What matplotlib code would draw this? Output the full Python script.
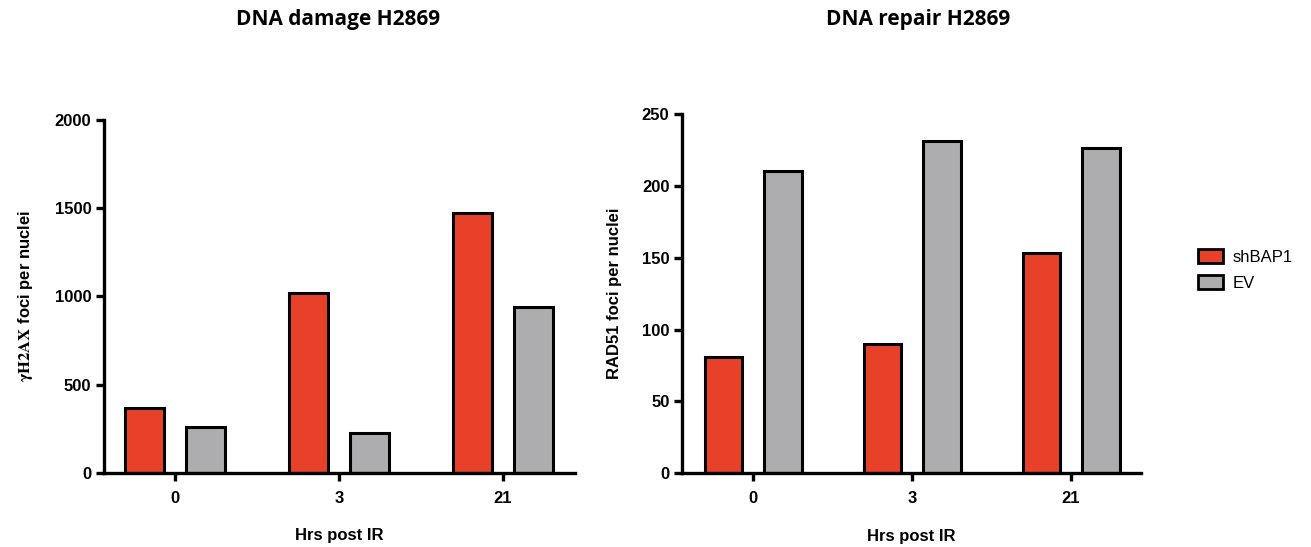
import matplotlib
matplotlib.use("Agg")
import matplotlib.pyplot as plt
from matplotlib.patches import Patch
import numpy as np

# Data
timepoints = ["0", "3", "21"]
series_names = ["shBAP1", "EV"]
h2ax_shbap1 = [365, 1017, 1470]
h2ax_ev = [257, 227, 941]
rad51_shbap1 = [81, 90, 153]
rad51_ev = [210, 231, 226]

left_ticks = [0, 500, 1000, 1500, 2000]
right_ticks = [0, 50, 100, 150, 200, 250]

RED = "#E8412A"
GRAY = "#ADADAF"

plt.rcParams["font.family"] = ["Liberation Sans", "DejaVu Sans"]
plt.rcParams["mathtext.fontset"] = "stix"

fig = plt.figure(figsize=(13.11, 5.47), dpi=100)
ax1 = fig.add_axes([0.0793, 0.1358, 0.3593, 0.6448])
ax2 = fig.add_axes([0.5202, 0.1347, 0.3501, 0.6569])

width = 0.238
offset = 0.186


def draw(ax, red_vals, gray_vals, yticks, ylabel, xlim):
    x = np.arange(len(timepoints))
    ax.bar(x - offset, red_vals, width, color=RED, edgecolor="black",
           linewidth=2.2, zorder=3)
    ax.bar(x + offset, gray_vals, width, color=GRAY, edgecolor="black",
           linewidth=2.2, zorder=3)
    ax.set_xlim(*xlim)
    ax.set_ylim(0, yticks[-1])
    ax.set_yticks(yticks)
    ax.set_xticks(x)
    ax.set_xticklabels(timepoints)
    for s in ["top", "right"]:
        ax.spines[s].set_visible(False)
    for s in ["left", "bottom"]:
        ax.spines[s].set_linewidth(2.4)
        ax.spines[s].set_zorder(4)
    ax.tick_params(axis="both", direction="out", length=6, width=2.4,
                   labelsize=12, pad=3)
    ax.tick_params(axis="x", pad=7)
    for lab in ax.get_xticklabels() + ax.get_yticklabels():
        lab.set_fontweight("bold")
    ax.set_xlabel("Hrs post IR", fontsize=12, fontweight="bold", labelpad=16)
    ax.set_ylabel(ylabel, fontsize=12, fontweight="bold", labelpad=14)


draw(ax1, h2ax_shbap1, h2ax_ev, left_ticks,
     r"$\mathbf{\gamma H2AX}$ foci per nuclei", (-0.433, 2.439))
draw(ax2, rad51_shbap1, rad51_ev, right_ticks,
     "RAD51 foci per nuclei", (-0.447, 2.44))

fig.text(338 / 1311, 1 - 20 / 547, "DNA damage H2869", ha="center",
         va="center", fontsize=15, fontweight="bold",
         family=["Open Sans", "DejaVu Sans"])
fig.text(918 / 1311, 1 - 20 / 547, "DNA repair H2869", ha="center",
         va="center", fontsize=15, fontweight="bold",
         family=["Open Sans", "DejaVu Sans"])

handles = [Patch(facecolor=RED, edgecolor="black", linewidth=2),
           Patch(facecolor=GRAY, edgecolor="black", linewidth=2)]
fig.legend(handles, series_names, loc="center left",
           bbox_to_anchor=(1183 / 1311, 1 - 270 / 547), frameon=False,
           fontsize=12, handlelength=1.5, handleheight=0.9,
           handletextpad=0.6, labelspacing=0.65)

fig.savefig("out.png", dpi=100)
